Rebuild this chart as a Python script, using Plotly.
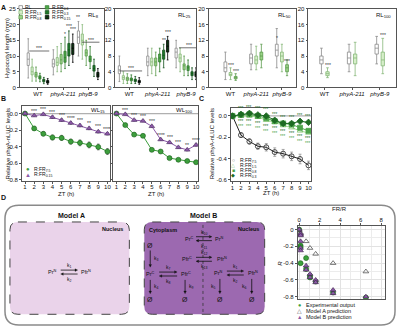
import math
import plotly.graph_objects as go

W, H = 400, 333
FONT = "Arial, 'Liberation Sans', Helvetica, sans-serif"


def X(px):
    return px / W


def Y(py):
    return 1 - py / H


# ---------------- data ----------------
genotypes = ["WT", "<i>phyA-211</i>", "<i>phyB-9</i>"]
conditions = ["RL", "R:FR<sub>1.5</sub>", "R:FR<sub>0.8</sub>",
              "R:FR<sub>0.6</sub>", "R:FR<sub>0.3</sub>", "R:FR<sub>0.15</sub>"]
cond_fill = ["#ffffff", "#d6efc9", "#9bd387", "#4fa84a", "#1f7a2b", "#0a3610"]
cond_line = ["#8a8a8a", "#86b879", "#5b9a4d", "#2f7a2c", "#124f1a", "#000000"]

# Panel A (hypocotyl length, mm): per condition -> [WT, phyA-211, phyB-9]
rl8_med = [[9.0, 7.5, 16.0], [5.0, 8.0, 15.0], [4.0, 8.8, 11.0], [3.2, 9.5, 9.0], [2.2, 12.0, 6.0], [1.8, 12.5, 4.0]]
rl8_q1 = [[7.0, 6.5, 14.0], [4.0, 7.0, 13.5], [3.3, 7.5, 10.0], [2.7, 8.0, 8.2], [1.8, 10.0, 5.2], [1.4, 10.5, 3.3]]
rl8_q3 = [[11.0, 9.0, 18.0], [6.5, 9.5, 17.0], [4.8, 10.5, 12.0], [3.7, 11.5, 10.0], [2.6, 14.0, 7.0], [2.2, 14.0, 4.8]]
rl8_lo = [[3.0, 4.0, 10.0], [2.0, 5.0, 9.0], [2.0, 5.0, 7.0], [1.8, 6.0, 6.0], [1.2, 7.0, 3.5], [1.0, 8.0, 2.5]]
rl8_hi = [[15.5, 12.0, 21.0], [9.0, 13.0, 20.0], [6.5, 14.0, 15.0], [4.5, 16.0, 13.0], [3.2, 18.0, 9.0], [2.8, 17.0, 6.0]]

rl25_med = [[4.5, 6.5, 9.0], [2.5, 6.5, 7.5], [2.2, 6.5, 5.5], [2.0, 7.5, 5.0], [1.8, 8.2, 3.5], [1.5, 10.5, 3.3]]
rl25_q1 = [[3.5, 5.5, 7.5], [2.0, 5.5, 6.5], [1.8, 5.5, 4.5], [1.7, 6.5, 4.3], [1.5, 7.2, 3.0], [1.2, 9.0, 2.8]]
rl25_q3 = [[5.5, 8.0, 10.0], [3.0, 7.5, 8.5], [2.6, 7.5, 6.0], [2.4, 8.5, 5.5], [2.1, 9.5, 4.0], [1.8, 12.0, 4.0]]
rl25_lo = [[1.5, 3.0, 5.0], [1.0, 3.5, 4.0], [1.0, 3.0, 3.0], [1.0, 4.0, 3.0], [1.0, 5.0, 2.0], [0.8, 7.0, 2.0]]
rl25_hi = [[8.0, 10.0, 12.0], [4.0, 10.0, 10.0], [3.5, 9.0, 8.0], [3.2, 10.0, 7.0], [2.8, 11.0, 5.0], [2.5, 13.0, 5.0]]

rl50_med = [[5.0, 7.5, 9.5], [3.3, 7.0, 8.0], [2.5, 8.0, 5.0]]
rl50_q1 = [[4.0, 6.0, 8.0], [3.0, 6.0, 6.5], [2.2, 7.0, 4.0]]
rl50_q3 = [[6.5, 8.5, 11.0], [3.8, 8.0, 9.0], [2.8, 9.0, 5.8]]
rl50_lo = [[2.0, 4.5, 5.0], [2.0, 4.5, 4.0], [1.8, 5.0, 3.0]]
rl50_hi = [[9.0, 11.0, 15.0], [5.0, 10.5, 11.0], [3.5, 11.0, 7.0]]

rl100_med = [[7.0, 7.5, 10.0], [3.5, 7.5, 7.0]]
rl100_q1 = [[6.0, 6.0, 8.5], [3.0, 6.0, 5.5]]
rl100_q3 = [[8.0, 9.0, 11.0], [4.0, 8.5, 9.0]]
rl100_lo = [[3.5, 4.0, 6.0], [2.5, 3.0, 3.5]]
rl100_hi = [[10.0, 11.0, 13.0], [5.0, 11.5, 12.5]]

# Panels B/C (relative phyA-nLUC levels)
zt = [1, 2, 3, 4, 5, 6, 7, 8, 9, 10]
wl15_rfr75 = [0.0, -0.18, -0.245, -0.29, -0.295, -0.34, -0.355, -0.38, -0.405, -0.46]
wl15_rfr75_err = [0.0, 0.02, 0.025, 0.03, 0.03, 0.03, 0.035, 0.035, 0.035, 0.035]
wl15_rfr015 = [0.0, -0.025, -0.01, -0.045, -0.08, -0.115, -0.145, -0.18, -0.22, -0.245]
wl15_rfr015_err = [0.0, 0.01, 0.012, 0.015, 0.015, 0.015, 0.015, 0.015, 0.015, 0.015]
wl100_rfr75 = [0.0, -0.14, -0.255, -0.27, -0.44, -0.46, -0.54, -0.56, -0.575, -0.59]
wl100_rfr75_err = [0.0, 0.01, 0.012, 0.012, 0.015, 0.015, 0.015, 0.015, 0.015, 0.015]
wl100_rfr015 = [0.0, -0.01, -0.08, -0.09, -0.155, -0.315, -0.35, -0.41, -0.44, -0.38]
wl100_rfr015_err = [0.0, 0.008, 0.01, 0.01, 0.012, 0.012, 0.012, 0.012, 0.012, 0.015]

c_rfr75 = [0.0, -0.18, -0.24, -0.285, -0.295, -0.34, -0.355, -0.38, -0.405, -0.465]
c_rfr75_err = [0.0, 0.02, 0.025, 0.03, 0.035, 0.04, 0.04, 0.04, 0.045, 0.04]
c_rfr15 = [0.0, 0.0, 0.0, -0.01, -0.04, -0.06, -0.09, -0.11, -0.14, -0.16]
c_rfr08 = [0.0, 0.01, 0.015, 0.0, -0.02, -0.05, -0.07, -0.08, -0.11, -0.14]
c_rfr03 = [0.0, 0.015, 0.025, 0.01, 0.0, -0.04, -0.07, -0.07, -0.05, -0.06]

# Panel D scatter
exp_frr = [0.0, 0.13, 0.13, 0.13, 0.67, 0.67, 1.05, 1.05, 1.6, 3.3, 6.5]
exp_r = [0.0, -0.19, -0.21, -0.40, -0.34, -0.47, -0.55, -0.57, -0.62, -0.75, -0.81]
modA_frr = [0.0, 0.13, 0.13, 0.67, 1.05, 1.6, 3.3, 6.5]
modA_r = [-0.01, -0.04, -0.06, -0.14, -0.22, -0.29, -0.40, -0.50]
modB_frr = [0.0, 0.13, 0.13, 0.13, 0.13, 0.13, 0.67, 0.67, 1.05, 1.05, 1.6, 1.6, 3.3, 3.3, 6.5]
modB_r = [0.0, -0.05, -0.07, -0.14, -0.22, -0.25, -0.43, -0.48, -0.53, -0.57, -0.60, -0.63, -0.72, -0.76, -0.80]

GREEN = "#3c9e3c"
GREEN_D = "#1b5e1b"
PURPLE = "#8d5aa8"
PURPLE_D = "#4a2a60"
INK = "#111111"

fig = go.Figure()
annotations = []
shapes = []


def txt(px, py, text, size=6, xanchor="center", yanchor="middle", color=INK, angle=0, bold=False):
    if bold:
        text = "<b>" + text + "</b>"
    annotations.append(dict(x=X(px), y=Y(py), xref="paper", yref="paper", text=text,
                            showarrow=False, xanchor=xanchor, yanchor=yanchor, textangle=angle,
                            font=dict(size=size, family=FONT, color=color)))


def dtxt(ax, x, y, text, yshift=0, size=5, color="#333333"):
    annotations.append(dict(x=x, y=y, xref="x" + ax, yref="y" + ax, text=text, showarrow=False,
                            yshift=yshift, font=dict(size=size, family=FONT, color=color)))


axis_common = dict(showline=True, linecolor="#555555", linewidth=0.8, mirror=True, ticks="outside",
                   ticklen=2, tickwidth=0.6, tickcolor="#555555", showgrid=False, zeroline=False,
                   tickfont=dict(size=6, family=FONT, color=INK))
layout_axes = {}


def set_axes(n, xdom, ydom, xrange, yrange, xextra=None, yextra=None):
    s = "" if n == 1 else str(n)
    xa = dict(axis_common, domain=[X(xdom[0]), X(xdom[1])], range=xrange, anchor="y" + s,
              ticklabelstandoff=-2, tickangle=0)
    ya = dict(axis_common, domain=[Y(ydom[1]), Y(ydom[0])], range=yrange, anchor="x" + s)
    if xextra:
        xa.update(xextra)
    if yextra:
        ya.update(yextra)
    layout_axes["xaxis" + s] = xa
    layout_axes["yaxis" + s] = ya


# ---------------- Panel A ----------------
A_panels = [
    (1, "RL<sub>8</sub>", rl8_med, rl8_q1, rl8_q3, rl8_lo, rl8_hi, [20, 105], [-0.72, 2.65], 25, 5, 0.155),
    (2, "RL<sub>25</sub>", rl25_med, rl25_q1, rl25_q3, rl25_lo, rl25_hi, [116, 197], [-0.49, 2.35], 20, 4, 0.14),
    (3, "RL<sub>50</sub>", rl50_med, rl50_q1, rl50_q3, rl50_lo, rl50_hi, [210, 297], [-0.84, 2.53], 20, 4, 0.2),
    (4, "RL<sub>100</sub>", rl100_med, rl100_q1, rl100_q3, rl100_lo, rl100_hi, [310, 398], [-0.58, 2.59], 20, 4, 0.22),
]
for n, lab, med, q1, q3, lo, hi, xd, xr, ymax, dt, step in A_panels:
    s = "" if n == 1 else str(n)
    nc = len(med)
    for ci in range(nc):
        xs = [g + (ci - (nc - 1) / 2) * step for g in range(len(genotypes))]
        fig.add_trace(go.Box(x=xs, q1=q1[ci], median=med[ci], q3=q3[ci], lowerfence=lo[ci],
                             upperfence=hi[ci], width=step * 0.55, boxpoints=False, whiskerwidth=0.8,
                             fillcolor=cond_fill[ci], line=dict(color=cond_line[ci], width=0.8),
                             xaxis="x" + s, yaxis="y" + s, showlegend=False, hoverinfo="skip"))
    set_axes(n, xd, [6, 86], xr, [0, ymax],
             xextra=dict(tickvals=list(range(len(genotypes))), ticktext=genotypes),
             yextra=dict(dtick=dt, tick0=0))
    txt(xd[1] - 3, 13, lab, size=6, xanchor="right")

txt(7, 46, "Hypocotyl length (mm)", size=6, angle=-90)
txt(4, 5, "A", size=7, bold=True)

# A legend
leg_rows = [4.5, 9.5, 14.5]
for ci, name in enumerate(conditions):
    col = ci // 3
    row = ci % 3
    x0 = 19 if col == 0 else 45.5
    y0 = leg_rows[row]
    shapes.append(dict(type="rect", xref="paper", yref="paper", x0=X(x0), x1=X(x0 + 3.6),
                       y0=Y(y0 + 1.8), y1=Y(y0 - 1.8), fillcolor=cond_fill[ci],
                       line=dict(color=cond_line[ci] if ci else "#777777", width=0.7)))
    txt(x0 + 4.5, y0, name, size=5, xanchor="left")

# A significance marks
SIG = "#333333"
dtxt("", 0.05, 11.8, "***", yshift=2)
shapes.append(dict(type="line", xref="x", yref="y", x0=-0.35, x1=0.45, y0=11.6, y1=11.6, line=dict(color=SIG, width=0.7)))
dtxt("", 2.1, 14.6, "***", yshift=2)
shapes.append(dict(type="line", xref="x", yref="y", x0=1.75, x1=2.45, y0=14.4, y1=14.4, line=dict(color=SIG, width=0.7)))
for ci, sym, ys in [(3, "*", 3), (4, "***", 5), (5, "***", 5)]:
    dtxt("", 1 + (ci - 2.5) * 0.155, rl8_hi[ci][1], sym, yshift=ys)
dtxt("", 2 - 2.5 * 0.155, rl8_hi[0][2], "**", yshift=4)

dtxt("2", 0.05, 4.4, "***", yshift=2)
shapes.append(dict(type="line", xref="x2", yref="y2", x0=-0.35, x1=0.45, y0=4.2, y1=4.2, line=dict(color=SIG, width=0.7)))
dtxt("2", 2.1, 10.3, "***", yshift=2)
shapes.append(dict(type="line", xref="x2", yref="y2", x0=1.75, x1=2.45, y0=10.1, y1=10.1, line=dict(color=SIG, width=0.7)))
dtxt("2", 1 + 1.5 * 0.14, rl25_hi[4][1], "**", yshift=4)
dtxt("2", 1 + 2.5 * 0.14, rl25_hi[5][1], "***", yshift=4)

dtxt("3", 0.0, rl50_hi[1][0], "***", yshift=3)
dtxt("3", 0.2, rl50_hi[2][0], "***", yshift=3)
dtxt("3", 2 - 0.2, rl50_q3[0][2], "*", yshift=6)
dtxt("3", 2.2, rl50_q3[2][2], "***", yshift=4)

dtxt("4", 0.11, rl100_hi[1][0], "***", yshift=3)
dtxt("4", 2.11, rl100_hi[1][2], "***", yshift=3)

# ---------------- Panel B ----------------
B_panels = [
    (5, "WL<sub>15</sub>", wl15_rfr75, wl15_rfr75_err, wl15_rfr015, wl15_rfr015_err, [22, 111], [0.66, 10.33], True,
     ["***", "***", "***", "***", "****", "***", "**", "***", "****"]),
    (6, "WL<sub>100</sub>", wl100_rfr75, wl100_rfr75_err, wl100_rfr015, wl100_rfr015_err, [114, 199], [0.66, 10.22], False,
     ["***", "***", "***", "***", "****", "***", "***", "**", "****"]),
]
for n, lab, g, ge, p, pe, xd, xr, showlab, stars in B_panels:
    s = str(n)
    shapes.append(dict(type="line", xref="x" + s + " domain", yref="y" + s, x0=0, x1=1, y0=0, y1=0,
                       line=dict(color="#b0b0b0", width=1.2), layer="below"))
    fig.add_trace(go.Scatter(x=zt, y=g, mode="lines+markers", xaxis="x" + s, yaxis="y" + s,
                             line=dict(color=GREEN, width=1),
                             marker=dict(symbol="circle", size=5, color=GREEN, line=dict(color=GREEN_D, width=0.6)),
                             error_y=dict(type="data", array=ge, color="#333333", thickness=0.6, width=1.2),
                             showlegend=False, hoverinfo="skip"))
    fig.add_trace(go.Scatter(x=zt, y=p, mode="lines+markers", xaxis="x" + s, yaxis="y" + s,
                             line=dict(color=PURPLE, width=1),
                             marker=dict(symbol="triangle-up", size=5, color=PURPLE, line=dict(color=PURPLE_D, width=0.6)),
                             error_y=dict(type="data", array=pe, color="#333333", thickness=0.6, width=1.2),
                             showlegend=False, hoverinfo="skip"))
    set_axes(n, xd, [105, 181.5], xr, [-0.82, 0.09],
             xextra=dict(dtick=1, tick0=1),
             yextra=dict(tickvals=[0, -0.2, -0.4, -0.6, -0.8], ticktext=["0.0", "-0.2", "-0.4", "-0.6", "-0.8"],
                         showticklabels=showlab))
    txt(xd[1] - 3, 109, lab, size=6, xanchor="right")
    txt((xd[0] + xd[1]) / 2, 195, "ZT (h)", size=6)
    for i, st in enumerate(stars):
        dtxt(s, zt[i + 1], p[i + 1] + pe[i + 1], st, yshift=4)

txt(8, 143, "Relative phyA-nLUC levels", size=6, angle=-90)
txt(4, 97, "B", size=7, bold=True)
# B legend
txt(28, 169.5, "●", size=6, color=GREEN)
txt(32, 169.5, "R:FR<sub>7.5</sub>", size=5, xanchor="left")
txt(28, 175, "▲", size=6, color=PURPLE)
txt(32, 175, "R:FR<sub>0.15</sub>", size=5, xanchor="left")

# ---------------- Panel C ----------------
shapes.append(dict(type="line", xref="x7 domain", yref="y7", x0=0, x1=1, y0=0, y1=0,
                   line=dict(color="#b0b0b0", width=1.2), layer="below"))
c_series = [
    (c_rfr75, c_rfr75_err, "circle-open", "#222222", "#222222"),
    (c_rfr15, None, "triangle-up-open", "#7cc36a", "#a6d895"),
    (c_rfr08, None, "square", "#4da34a", "#4da34a"),
    (c_rfr03, None, "diamond", "#1d6a22", "#1d6a22"),
]
for yv, err, sym, mc, lc in c_series:
    fig.add_trace(go.Scatter(x=zt, y=yv, mode="lines+markers", xaxis="x7", yaxis="y7",
                             line=dict(color=lc, width=1),
                             marker=dict(symbol=sym, size=5, color=mc, line=dict(color=mc, width=0.8)),
                             error_y=(dict(type="data", array=err, color="#777777", thickness=0.6, width=1.5)
                                      if err is not None else None),
                             showlegend=False, hoverinfo="skip"))
set_axes(7, [232, 313], [106.7, 181.7], [0.8, 10.35], [-0.616, 0.077],
         xextra=dict(dtick=1, tick0=1),
         yextra=dict(tickvals=[0, -0.2, -0.4, -0.6], ticktext=["0.0", "-0.2", "-0.4", "-0.6"]))
for i in range(1, len(zt)):
    top = max(c_rfr15[i], c_rfr08[i], c_rfr03[i])
    bot = min(c_rfr15[i], c_rfr08[i], c_rfr03[i])
    dtxt("7", zt[i], top, "***", yshift=6, size=4.5, color="#1d6a22")
    dtxt("7", zt[i], bot, "***", yshift=-6, size=4.5, color="#1d6a22")
    dtxt("7", zt[i], bot, "***", yshift=-11, size=4.5, color="#4da34a")
txt(213, 143, "Relative phyA-nLUC levels", size=6, angle=-90)
txt(272, 193, "ZT (h)", size=6)
txt(203, 97, "C", size=7, bold=True)
c_leg = [("○", "#444444", "R:FR<sub>7.5</sub>"), ("△", "#7cc36a", "R:FR<sub>1.5</sub>"),
         ("■", "#4da34a", "R:FR<sub>0.8</sub>"), ("◆", "#1d6a22", "R:FR<sub>0.3</sub>")]
for k, (g, col, name) in enumerate(c_leg):
    yy = 160 + k * 5.2
    txt(234.5, yy, g, size=5, color=col)
    txt(239, yy, name, size=5, xanchor="left")

# ---------------- Panel D ----------------
txt(4, 198, "D", size=7, bold=True)


def rrect(x0, y0, x1, y1, r):
    pts = [("M", [(x0 + r, y0)]), ("L", [(x1 - r, y0)]), ("Q", [(x1, y0), (x1, y0 + r)]),
           ("L", [(x1, y1 - r)]), ("Q", [(x1, y1), (x1 - r, y1)]), ("L", [(x0 + r, y1)]),
           ("Q", [(x0, y1), (x0, y1 - r)]), ("L", [(x0, y0 + r)]), ("Q", [(x0, y0), (x0 + r, y0)])]
    out = ""
    for cmd, ps in pts:
        out += cmd + " " + " ".join("%.5f,%.5f" % (X(a), Y(b)) for a, b in ps) + " "
    return out + "Z"


shapes.append(dict(type="path", xref="paper", yref="paper", path=rrect(5, 206, 397, 328, 14),
                   line=dict(color="#8a8a8a", width=1.5), layer="below"))
shapes.append(dict(type="path", xref="paper", yref="paper", path=rrect(10, 223, 130, 317, 8),
                   fillcolor="#ead3ea", line=dict(color="#444444", width=1, dash="dash"), layer="below"))
shapes.append(dict(type="path", xref="paper", yref="paper", path=rrect(145, 223, 266, 317, 8),
                   fillcolor="#9c69b0", line=dict(color="#444444", width=1, dash="dash"), layer="below"))
shapes.append(dict(type="line", xref="paper", yref="paper", x0=X(204), x1=X(204), y0=Y(226), y1=Y(315),
                   line=dict(color="#333333", width=0.8, dash="dot")))

txt(72, 216, "Model A", size=7, bold=True)
txt(205, 216, "Model B", size=7, bold=True)
txt(126, 230, "Nucleus", size=5.5, xanchor="right", bold=True)
txt(148, 231, "Cytoplasm", size=5.5, xanchor="left", bold=True)
txt(262, 230, "Nucleus", size=5.5, xanchor="right", bold=True)


def arrow(x0, y0, x1, y1, head=2.6, half=1.3):
    L = math.hypot(x1 - x0, y1 - y0)
    dx, dy = (x1 - x0) / L, (y1 - y0) / L
    bx, by = x1 - head * dx, y1 - head * dy
    shapes.append(dict(type="line", xref="paper", yref="paper", x0=X(x0), y0=Y(y0), x1=X(bx), y1=Y(by),
                       line=dict(color=INK, width=0.8)))
    c1 = (bx - half * dy, by + half * dx)
    c2 = (bx + half * dy, by - half * dx)
    path = "M %.5f,%.5f L %.5f,%.5f L %.5f,%.5f Z" % (X(x1), Y(y1), X(c1[0]), Y(c1[1]), X(c2[0]), Y(c2[1]))
    shapes.append(dict(type="path", xref="paper", yref="paper", path=path, fillcolor=INK,
                       line=dict(color=INK, width=0.3)))


def revpair(xa, xb, y, ktop, kbot):
    arrow(xa, y - 2, xb, y - 2)
    arrow(xb, y + 2, xa, y + 2)
    txt((xa + xb) / 2, y - 6.5, ktop, size=5)
    txt((xa + xb) / 2, y + 7.5, kbot, size=5)


# Model A
txt(53, 274, "Pr<sup>N</sup>", size=5.5)
txt(86, 274, "Pfr<sup>N</sup>", size=5.5)
revpair(61, 78, 274, "k<sub>1</sub>", "k<sub>2</sub>")

# Model B - exchange
txt(190, 240, "Pr<sup>C</sup>", size=5.5)
revpair(197, 213, 240, "k<sub>10</sub>", "k<sub>11</sub>")
txt(221, 240, "Pr<sup>N</sup>", size=5.5)
txt(188, 261, "Pfr<sup>C</sup>", size=5.5)
revpair(197, 213, 261, "k<sub>12</sub>", "k<sub>13</sub>")
txt(223, 261, "Pfr<sup>N</sup>", size=5.5)
# Model B - nucleus
txt(220, 275, "Pr<sup>N</sup>", size=5.5)
txt(254, 275, "Pfr<sup>N</sup>", size=5.5)
revpair(228, 245, 275, "k<sub>1</sub>", "k<sub>2</sub>")
arrow(221, 281, 221, 296)
arrow(253, 281, 253, 296)
txt(215, 289, "k<sub>5</sub>", size=5)
txt(246, 289, "k<sub>6</sub>", size=5)
txt(221, 302, "Ø", size=7)
txt(253, 302, "Ø", size=7)
# Model B - cytoplasm
txt(151, 247, "Ø", size=7)
arrow(151, 252, 151, 269)
txt(157, 260, "k<sub>3</sub>", size=5)
txt(151, 276, "Pr<sup>C</sup>", size=5.5)
revpair(160, 178, 276, "k<sub>7</sub>", "k<sub>8</sub>")
txt(187, 276, "Pfr<sup>C</sup>", size=5.5)
arrow(151, 282, 151, 296)
arrow(186, 282, 186, 296)
txt(157, 289, "k<sub>4</sub>", size=5)
txt(192, 289, "k<sub>9</sub>", size=5)
txt(151, 302, "Ø", size=7)
txt(186, 302, "Ø", size=7)

# D scatter
fig.add_trace(go.Scatter(x=exp_frr, y=exp_r, mode="markers", xaxis="x8", yaxis="y8",
                         marker=dict(symbol="circle", size=5, color="#3aa13a", line=dict(color="#1d5e1d", width=0.6)),
                         showlegend=False, hoverinfo="skip"))
fig.add_trace(go.Scatter(x=modA_frr, y=modA_r, mode="markers", xaxis="x8", yaxis="y8",
                         marker=dict(symbol="triangle-up-open", size=5, color="#555555", line=dict(width=0.8)),
                         showlegend=False, hoverinfo="skip"))
fig.add_trace(go.Scatter(x=modB_frr, y=modB_r, mode="markers", xaxis="x8", yaxis="y8",
                         marker=dict(symbol="triangle-up", size=5, color="#8b5aa6", line=dict(color="#3a1f4a", width=0.6)),
                         showlegend=False, hoverinfo="skip"))
set_axes(8, [299.3, 387.3], [227.3, 301.7], [-0.14, 8.4], [-0.83, 0.04],
         xextra=dict(side="top", dtick=2, tick0=0, showgrid=True, gridcolor="#e2e2e2", gridwidth=0.6,
                     ticklabelstandoff=-1,
                     minor=dict(dtick=1, showgrid=True, gridcolor="#ececec")),
         yextra=dict(tickvals=[0, -0.2, -0.4, -0.6, -0.8], ticktext=["0", "-0.2", "-0.4", "-0.6", "-0.8"],
                     showgrid=True, gridcolor="#e2e2e2", gridwidth=0.6,
                     minor=dict(dtick=0.1, showgrid=True, gridcolor="#ececec")))
txt(341, 210, "FR/R", size=6)
txt(282, 265, "<i>R</i>", size=6, angle=-90)
d_leg = [("●", "#3aa13a", "Experimental output"), ("△", "#555555", "Model A prediction"),
         ("▲", "#8b5aa6", "Model B prediction")]
for k, (g, col, name) in enumerate(d_leg):
    yy = 307.5 + k * 6
    txt(301.5, yy, g, size=5.5, color=col)
    txt(305.5, yy, name, size=5.5, xanchor="left")

fig.update_layout(width=W, height=H, margin=dict(l=0, r=0, t=0, b=0), autosize=False,
                  paper_bgcolor="white", plot_bgcolor="rgba(0,0,0,0)",
                  font=dict(family=FONT, size=6, color=INK),
                  annotations=annotations, shapes=shapes, showlegend=False, **layout_axes)
fig.write_html("out.html")
